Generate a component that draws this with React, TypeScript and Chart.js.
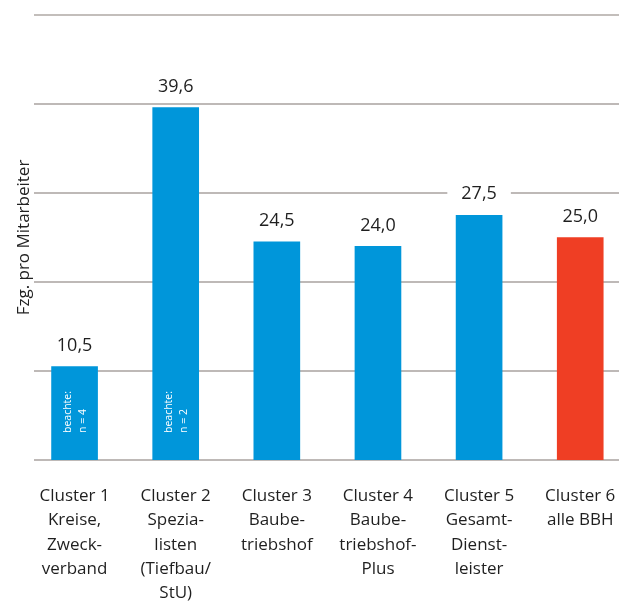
import React, { useEffect, useRef } from "react";
import { Chart, registerables } from "chart.js";

Chart.register(...registerables);

const categories: string[][] = [
  ["Cluster 1", "Kreise,", "Zweck-", "verband"],
  ["Cluster 2", "Spezia-", "listen", "(Tiefbau/", "StU)"],
  ["Cluster 3", "Baube-", "triebshof"],
  ["Cluster 4", "Baube-", "triebshof-", "Plus"],
  ["Cluster 5", "Gesamt-", "Dienst-", "leister"],
  ["Cluster 6", "alle BBH"],
];
const values: number[] = [10.5, 39.6, 24.5, 24.0, 27.5, 25.0];
const barColors: string[] = ["#0096da", "#0096da", "#0096da", "#0096da", "#0096da", "#ef3e24"];
const notes: string[][] = [["beachte:", "n = 4"], ["beachte:", "n = 2"], [], [], [], []];
const yTicks: number[] = [0, 10, 20, 30, 40, 50];
const yTitle = "Fzg. pro Mitarbeiter";

const FONT = "'Open Sans', 'DejaVu Sans', sans-serif";

const gridPlugin = {
  id: "customGrid",
  beforeDatasetsDraw(chart: any) {
    const { ctx } = chart;
    const y = chart.scales.y;
    ctx.save();
    yTicks.forEach((v) => {
      const py = Math.round(y.getPixelForValue(v));
      ctx.beginPath();
      ctx.strokeStyle = v === yTicks[yTicks.length - 1] ? "#c3bebb" : "#a9a29f";
      ctx.lineWidth = v === yTicks[yTicks.length - 1] ? 2 : 1.6;
      ctx.moveTo(34, py);
      ctx.lineTo(619, py);
      ctx.stroke();
    });
    ctx.translate(24, (chart.chartArea.top + chart.chartArea.bottom) / 2);
    ctx.rotate(-Math.PI / 2);
    ctx.fillStyle = "#222222";
    ctx.font = `17px ${FONT}`;
    ctx.textAlign = "center";
    ctx.textBaseline = "middle";
    ctx.fillText(yTitle, 0, 0);
    ctx.restore();
  },
};

const labelPlugin = {
  id: "valueLabels",
  afterDatasetsDraw(chart: any) {
    const { ctx } = chart;
    const meta = chart.getDatasetMeta(0);
    ctx.save();
    meta.data.forEach((bar: any, i: number) => {
      const txt = values[i].toFixed(1).replace(".", ",");
      ctx.font = `18px ${FONT}`;
      const w = ctx.measureText(txt).width;
      const cy = bar.y - 21;
      ctx.fillStyle = "#ffffff";
      ctx.fillRect(bar.x - w / 2 - 14, cy - 11, w + 28, 22);
      ctx.fillStyle = "#1f1f1f";
      ctx.textAlign = "center";
      ctx.textBaseline = "middle";
      ctx.fillText(txt, bar.x, cy);

      const lines = notes[i];
      if (lines && lines.length) {
        ctx.save();
        ctx.translate(bar.x, bar.base - 27);
        ctx.rotate(-Math.PI / 2);
        ctx.fillStyle = "#ffffff";
        ctx.font = `10.5px ${FONT}`;
        ctx.textAlign = "left";
        ctx.textBaseline = "middle";
        lines.forEach((l, k) => {
          ctx.fillText(l, 0, -7 + k * 15);
        });
        ctx.restore();
      }
    });
    ctx.restore();
  },
};

export default function App() {
  const ref = useRef<HTMLCanvasElement>(null);
  useEffect(() => {
    if (!ref.current) return;
    const chart = new Chart(ref.current, {
      type: "bar",
      data: {
        labels: categories,
        datasets: [
          {
            data: values,
            backgroundColor: barColors,
            barThickness: 46,
            borderWidth: 0,
          },
        ],
      },
      options: {
        animation: false,
        responsive: false,
        maintainAspectRatio: false,
        layout: { padding: { top: 15, left: 24, right: 8, bottom: 0 } },
        plugins: {
          legend: { display: false },
          tooltip: { enabled: false },
        },
        scales: {
          x: {
            grid: { display: false, drawTicks: false },
            border: { display: false },
            ticks: {
              color: "#1f1f1f",
              font: { family: FONT, size: 17, lineHeight: 1.43 },
              padding: 24,
              maxRotation: 0,
              autoSkip: false,
            },
            afterFit: (scale: any) => {
              scale.height = 141;
            },
          },
          y: {
            display: false,
            min: 0,
            max: 50,
          },
        },
      },
      plugins: [gridPlugin, labelPlugin],
    });
    return () => chart.destroy();
  }, []);
  return (
    <div style={{ position: "fixed", left: 0, top: 0, width: 625, height: 601, overflow: "hidden", background: "#fff" }}>
      <canvas ref={ref} width={640} height={601} style={{ width: 640, height: 601, display: "block" }} />
    </div>
  );
}
